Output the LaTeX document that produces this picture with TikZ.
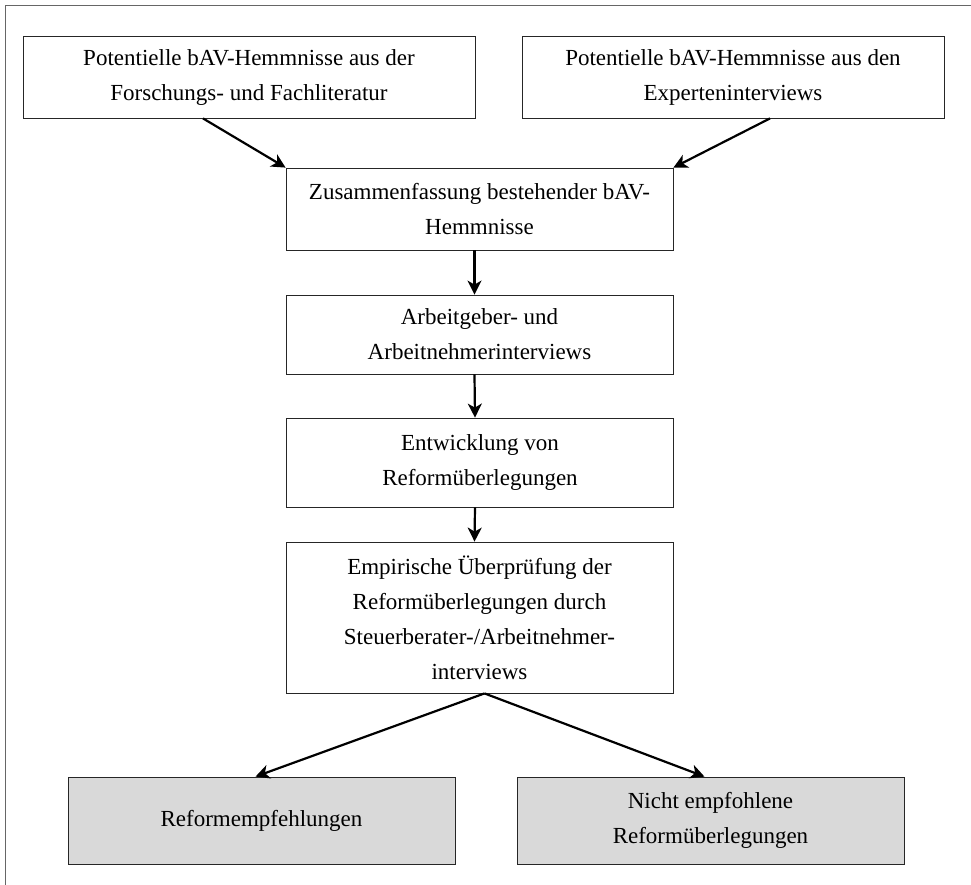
\documentclass[tikz,border=0pt]{standalone}
\usepackage{fontspec}
\setmainfont{Liberation Serif}
\usetikzlibrary{arrows.meta}

\begin{document}
\begin{tikzpicture}[x=0.5pt,y=-0.5pt]
\useasboundingbox (0,0) rectangle (971,885);

\coordinate (Lit) at (249,77);
\coordinate (Exp) at (733,77);
\coordinate (Zus) at (479.5,209);
\coordinate (Arb) at (479.5,334.5);
\coordinate (Entw) at (480,462.5);
\coordinate (Emp) at (479.5,617.5);
\coordinate (Ref) at (261.5,820.5);
\coordinate (Nicht) at (710.5,820.5);

\coordinate (FrameA) at (971,5);
\coordinate (FrameB) at (5,5);
\coordinate (FrameC) at (5,885);

\draw[black!60, thin] (FrameA) -- (FrameB) -- (FrameC);


\tikzset{BoxStyle/.style = {
 draw = black!85,
 thin,
 align = center,
 text = black,
 inner sep = 0pt,
 minimum width = 193.5pt,
 font = \fontsize{11.5}{17.5}\selectfont} }
\tikzset{ResultStyle/.style = {BoxStyle, fill = black!15, minimum height = 43.5pt} }

\node[BoxStyle, minimum width=226pt, minimum height=41pt] (N_Lit) at (Lit)
 {Potentielle bAV-Hemmnisse aus der\\Forschungs- und Fachliteratur};
\node[BoxStyle, minimum width=211pt, minimum height=41pt] (N_Exp) at (Exp)
 {Potentielle bAV-Hemmnisse aus den\\Experteninterviews};
\node[BoxStyle, minimum height=41pt] (N_Zus) at (Zus)
 {Zusammenfassung bestehender bAV-\\Hemmnisse};
\node[BoxStyle, minimum height=39.5pt] (N_Arb) at (Arb)
 {Arbeitgeber- und\\Arbeitnehmerinterviews};
\node[BoxStyle, minimum height=44.5pt] (N_Entw) at (Entw)
 {Entwicklung von\\Reformüberlegungen};
\node[BoxStyle, minimum height=75.5pt] (N_Emp) at (Emp)
 {Empirische Überprüfung der\\Reformüberlegungen durch\\Steuerberater-/Arbeitnehmer-\\interviews};
\node[ResultStyle] (N_Ref) at (Ref) {Reformempfehlungen};
\node[ResultStyle] (N_Nicht) at (Nicht) {Nicht empfohlene\\Reformüberlegungen};


\tikzset{ArrowStyle/.style = {line width=1.1pt, -{Stealth[length=7pt, width=7pt, inset=2pt]}} }

\draw[ArrowStyle] ([xshift=-23pt]N_Lit.south) -- (N_Zus.north west);
\draw[ArrowStyle] ([xshift=18.5pt]N_Exp.south) -- (N_Zus.north east);
\draw[ArrowStyle] ([xshift=-2.5pt]N_Zus.south) -- ([xshift=-2.5pt]N_Arb.north);
\draw[ArrowStyle] ([xshift=-2.5pt]N_Arb.south) -- ([xshift=-2.5pt]N_Entw.north);
\draw[ArrowStyle] ([xshift=-2.5pt]N_Entw.south) -- ([xshift=-2.5pt]N_Emp.north);
\draw[ArrowStyle] ([xshift=2.5pt]N_Emp.south) -- ([xshift=-3pt]N_Ref.north);
\draw[ArrowStyle] ([xshift=2.5pt]N_Emp.south) -- ([xshift=-3pt]N_Nicht.north);

\end{tikzpicture}
\end{document}
